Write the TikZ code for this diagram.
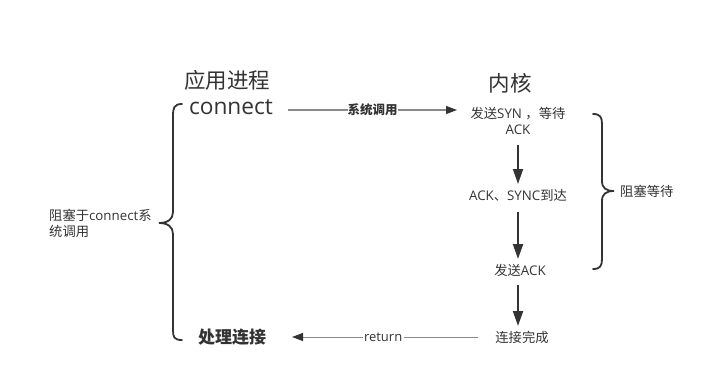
\documentclass[tikz,border=0pt]{standalone}
\usepackage{fontspec}
\setmainfont{Open Sans}
\newfontfamily\cjk{Noto Sans CJK SC}
\usetikzlibrary{arrows.meta}
\definecolor{ink}{HTML}{333333}
\definecolor{grayline}{HTML}{8A8A8A}
\begin{document}
\begin{tikzpicture}[x=1pt,y=-1pt,
  every node/.style={text=ink, inner sep=1pt},
  big/.style={font=\fontsize{21.5}{24}\selectfont},
  small/.style={font=\fontsize{13.3}{16}\selectfont},
  flow/.style={draw=ink, line width=2pt, -{Triangle[length=15pt,width=10pt]}},
  call/.style={draw=grayline, line width=1pt},
  tipd/.style={-{Triangle[length=11pt,width=8pt,fill=ink,color=ink]}},
  bracepath/.style={draw=ink, line width=1.8pt, line cap=round}]
\useasboundingbox (0,0) rectangle (727,385);
\node[big] (app) at (227,80) {\cjk 应用进程};
\node[font=\fontsize{22.7}{25}\selectfont] (conn) at (231,107) {connect};
\node[big] (kern) at (510,83) {\cjk 内核};
\node[small, align=center] (syn) at (518,121) {{\cjk 发送}SYN {\cjk ，等待}\\ACK};
\node[small] (arr) at (518,195) {ACK{\cjk 、}SYNC{\cjk 到达}};
\node[small] (sack) at (520,270) {{\cjk 发送}ACK};
\node[small] (done) at (522,337) {\cjk 连接完成};
\node[font=\cjk\bfseries\fontsize{17}{19}\selectfont] (proc) at (232,337) {处理连接};
\node[small, align=left, anchor=west] (blk) at (48,223) {{\cjk 阻塞于}connect{\cjk 系}\\{\cjk 统调用}};
\node[small, anchor=west] (wait) at (619,191) {\cjk 阻塞等待};
\coordinate (c1) at (288,110);
\coordinate (c2) at (457,110);
\draw[call, tipd] (c1) -- node[fill=white, font=\cjk\bfseries\fontsize{12.5}{14}\selectfont, inner sep=0pt] {系统调用} (c2);
\coordinate (r1) at (478,337);
\coordinate (r2) at (292,337);
\draw[call, tipd] (r1) -- node[fill=white, font=\fontsize{13}{15}\selectfont, inner sep=1.5pt, pos=0.51] {return} (r2);
\draw[flow] (518,145) -- (518,184);
\draw[flow] (518,212) -- (518,259);
\draw[flow] (518,285) -- (518,326);
% left brace
\draw[bracepath] (182,104) .. controls (174,104) and (173,108) .. (173,116)
  -- (173,212) .. controls (173,219) and (168,223) .. (159,223)
  .. controls (168,223) and (173,227) .. (173,234)
  -- (173,330) .. controls (173,337) and (174,340) .. (182,340);
% right brace
\draw[bracepath] (593,114) .. controls (600,114) and (602,117) .. (602,124)
  -- (602,181) .. controls (602,188) and (606,191) .. (614,191)
  .. controls (606,191) and (602,194) .. (602,201)
  -- (602,259) .. controls (602,266) and (600,269) .. (593,269);
\end{tikzpicture}
\end{document}
